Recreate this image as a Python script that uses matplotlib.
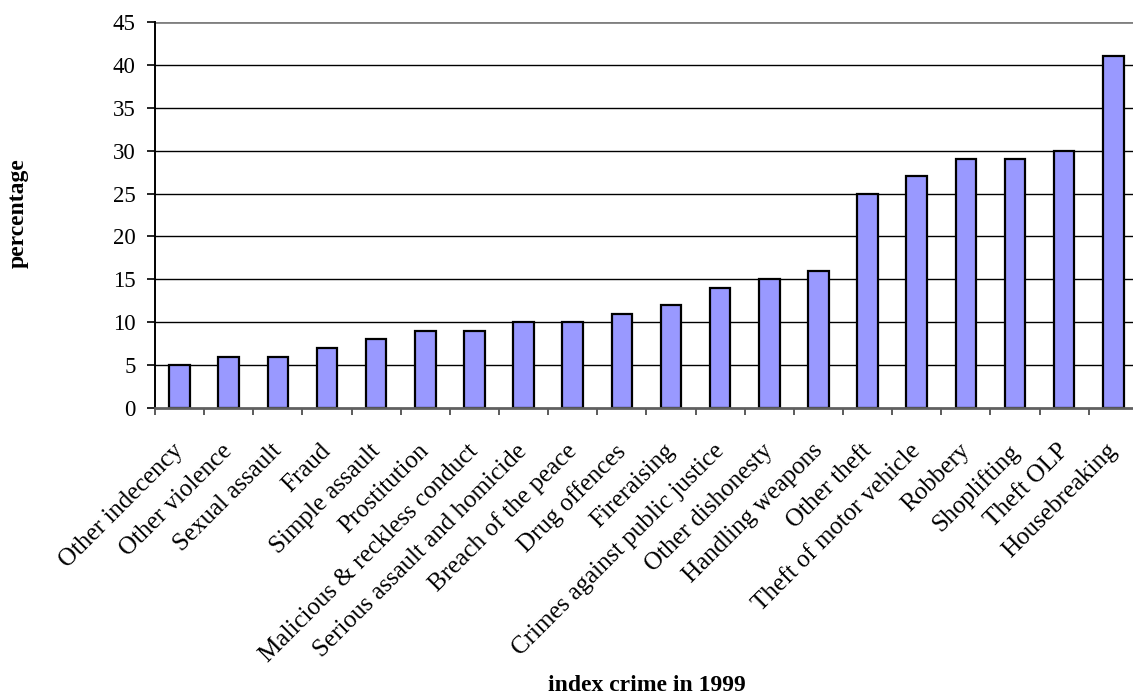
import matplotlib.pyplot as plt
import numpy as np

crimes = ["Other indecency", "Other violence", "Sexual assault", "Fraud",
          "Simple assault", "Prostitution", "Malicious & reckless conduct",
          "Serious assault and homicide", "Breach of the peace", "Drug offences",
          "Fireraising", "Crimes against public justice", "Other dishonesty",
          "Handling weapons", "Other theft", "Theft of motor vehicle", "Robbery",
          "Shoplifting", "Theft OLP", "Housebreaking"]
percent = [5, 6, 6, 7, 8, 9, 9, 10, 10, 11, 12, 14, 15, 16, 25, 27, 29, 29, 30, 41]
yticks = [0, 5, 10, 15, 20, 25, 30, 35, 40, 45]

plt.rcParams['font.family'] = ['Liberation Serif', 'DejaVu Serif']

fig = plt.figure(figsize=(11.33, 6.97), dpi=100)
ax = fig.add_axes([0.1368, 0.4146, 0.8675, 0.5538])

x = np.arange(len(crimes))
ax.bar(x, percent, width=0.42, color='#9999FF', edgecolor='black', linewidth=1.6, zorder=3)

ax.set_ylim(0, 45)
ax.set_xlim(-0.5, len(crimes) - 0.5)
ax.set_yticks(yticks)
ax.set_yticklabels([str(t) for t in yticks], fontsize=16.5)
for t in yticks[1:]:
    ax.axhline(t, color='black' if t < 45 else '#808080', lw=1.0 if t < 45 else 2.0, zorder=1)

# ticks between categories, labels at centres
ax.set_xticks(np.arange(len(crimes) + 1) - 0.5)
ax.set_xticklabels([])
ax.tick_params(axis='x', length=5, width=1.2, color='#404040', direction='out')
ax.tick_params(axis='y', length=6, width=1.2, direction='out', pad=8)
for i, name in enumerate(crimes):
    ax.text(i - 0.15, -3.7, name, rotation=45, ha='right', va='top',
            rotation_mode='anchor', fontsize=18)

for side in ['top', 'right']:
    ax.spines[side].set_visible(False)
ax.spines['left'].set_linewidth(1.4)
ax.spines['bottom'].set_color('#606060')
ax.spines['bottom'].set_linewidth(2.0)
ax.spines['bottom'].set_zorder(4)

fig.text(0.016, 0.694, 'percentage', rotation=90, ha='center', va='center',
         fontsize=17, fontweight='bold')
fig.text(0.571, 0.016, 'index crime in 1999', ha='center', va='center',
         fontsize=17, fontweight='bold')

fig.savefig('out.png', dpi=100)
